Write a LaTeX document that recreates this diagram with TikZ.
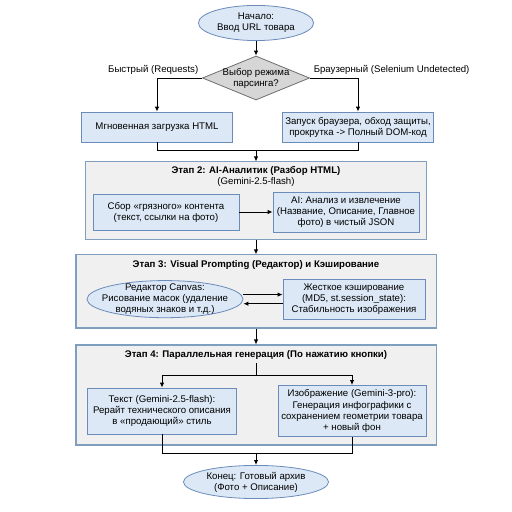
\documentclass[tikz,border=0pt]{standalone}
\usepackage{fontspec}
\setmainfont{Liberation Sans}
\usetikzlibrary{shapes.geometric,arrows.meta}

\definecolor{boxfill}{HTML}{DCE8F6}
\definecolor{boxline}{HTML}{6B8CBA}
\definecolor{stagefill}{HTML}{F0F0F0}
\definecolor{stageline}{HTML}{809EBE}
\definecolor{decfill}{HTML}{D6D6D6}
\definecolor{decline}{HTML}{6E6E6E}

\tikzset{
  every node/.style={font=\fontsize{9.6}{11}\selectfont, align=center},
  proc/.style={draw=boxline, fill=boxfill, line width=0.8pt, inner sep=2pt},
  term/.style={ellipse, draw=boxline, fill=boxfill, line width=0.8pt, inner sep=-12pt},
  decision/.style={diamond, draw=decline, fill=decfill, line width=0.8pt, inner sep=-12pt},
  stage/.style={draw=stageline, fill=stagefill, line width=1pt},
  flow/.style={-{Latex[length=5pt,width=4.5pt]}, line width=0.9pt},
  link/.style={line width=0.9pt},
}

\begin{document}
\begin{tikzpicture}
\useasboundingbox (0,0) rectangle (17.92,17.92);

%start, choice of parsing mode
\node[term, minimum width=4.03cm, minimum height=1.23cm] (start) at (8.96,17.115) {Начало:\\Ввод URL товара};
\node[decision, minimum width=3.75cm, minimum height=1.54cm] (mode) at (8.96,15.19) {Выбор режима\\парсинга?};
\node[proc, minimum width=5.3cm, minimum height=1.05cm] (fast) at (5.495,13.475) {Мгновенная загрузка HTML};
\node[proc, minimum width=5.3cm, minimum height=1.05cm] (browser) at (12.53,13.475) {Запуск браузера, обход защиты,\\прокрутка -> Полный DOM-код};

\draw[flow] (start) -- (mode);
\draw[flow] (mode.west) -| node[at start, above left] {Быстрый (Requests)} (fast.north);
\draw[flow] (mode.east) -| node[at start, above right] {Браузерный (Selenium Undetected)} (browser.north);

\coordinate (join1) at (8.96,12.67);
\draw[link] (fast.south) |- (join1);
\draw[link] (browser.south) |- (join1);

%stage 2
\node[stage, minimum width=11.94cm, minimum height=2.7cm] (st2) at (8.96,10.9) {};
\draw[flow] (join1) -- (st2.north);
\node (t2) at (8.96,11.74) {\textbf{Этап 2: AI-Аналитик (Разбор HTML)}\\(Gemini-2.5-flash)};
\node[proc, minimum width=5.11cm, minimum height=1.26cm] (dirty) at (5.81,10.5) {Сбор «грязного» контента\\(текст, ссылки на фото)};
\node[proc, minimum width=5.11cm, minimum height=1.4cm] (parse) at (12.11,10.5) {AI: Анализ и извлечение\\(Название, Описание, Главное\\фото) в чистый JSON};
\draw[flow] (dirty) -- (parse);

%stage 3
\node[stage, minimum width=12.6cm, minimum height=2.56cm] (st3) at (8.96,7.72) {};
\draw[flow] (st2) -- (st3);
\node (t3) at (8.96,8.645) {\textbf{Этап 3: Visual Prompting (Редактор) и Кэширование}};
\node[term, minimum width=5.46cm, minimum height=1.3cm] (canvas) at (5.775,7.45) {Редактор Canvas:\\Рисование масок (удаление\\водяных знаков и т.д.)};
\node[proc, minimum width=4.97cm, minimum height=1.4cm] (cache) at (12.39,7.45) {Жесткое кэширование\\(MD5, st.session\_state):\\Стабильность изображения};
\draw[flow] ([yshift=1.6mm]canvas.east) -- ([yshift=1.6mm]cache.west);
\draw[flow] ([yshift=-1.6mm]cache.west) -- ([yshift=-1.6mm]canvas.east);

%stage 4
\node[stage, minimum width=12.6cm, minimum height=3.5cm] (st4) at (8.96,4.095) {};
\draw[flow] (st3) -- (st4);
\node (t4) at (8.96,5.495) {\textbf{Этап 4: Параллельная генерация (По нажатию кнопки)}};
\node[proc, minimum width=5.22cm, minimum height=1.61cm] (txt) at (5.67,3.535) {Текст (Gemini-2.5-flash):\\Рерайт технического описания\\в «продающий» стиль};
\node[proc, minimum width=5.18cm, minimum height=1.79cm] (img) at (12.32,3.535) {Изображение (Gemini-3-pro):\\Генерация инфографики с\\сохранением геометрии товара\\+ новый фон};

\coordinate (split4) at (8.96,4.795);
\draw[link] (t4) -- (split4);
\draw[flow] (split4) -| (txt.north);
\draw[flow] (split4) -| (img.north);

%end
\coordinate (join4) at (8.96,2.065);
\draw[link] (txt.south) |- (join4);
\draw[link] (img.south) |- (join4);
\node[term, minimum width=5.08cm, minimum height=1.16cm] (finish) at (8.96,1.05) {Конец: Готовый архив\\(Фото + Описание)};
\draw[flow] (join4) -- (finish);

\end{tikzpicture}
\end{document}
